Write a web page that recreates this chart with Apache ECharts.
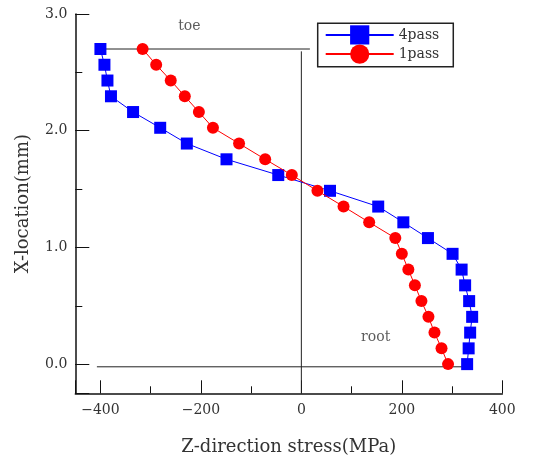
<!DOCTYPE html>
<html>
<head>
<meta charset="utf-8">
<script src="https://cdn.jsdelivr.net/npm/echarts@6/dist/echarts.min.js"></script>
<style>html,body{margin:0;padding:0;background:#fff}#c{width:541px;height:459px}</style>
</head>
<body>
<div id="c"></div>
<script>
// Data
var yLoc = [2.7, 2.565, 2.43, 2.295, 2.16, 2.025, 1.89, 1.755, 1.62, 1.485, 1.35, 1.215, 1.08, 0.945, 0.81, 0.675, 0.54, 0.405, 0.27, 0.135, 0.0];
var pass4 = [-400, -392, -386, -379, -335, -281, -228, -149, -46, 57, 153, 203, 252, 301, 319, 326, 334, 340, 336, 333, 330];
var pass1 = [-316, -289, -260, -232, -204, -176, -124, -72, -19, 32, 84, 135, 187, 200, 213, 226, 239, 253, 265, 279, 292];
var seriesNames = ['4pass', '1pass'];
var toeLine = [[-408, 2.7], [17, 2.7]];
var zeroLine = [[0, 2.68], [0, -0.25]];
var rootLine = [[-407, -0.023], [339, -0.023]];
var notes = [{ name: 'toe', value: [-223, 2.89] }, { name: 'root', value: [148, 0.23] }];
var xMin = -450, xMax = 400, yMin = -0.25, yMax = 3.0;

function pairs(xs, ys) { return xs.map(function (x, i) { return [x, ys[i]]; }); }

var FONT = 'DejaVu Serif';
var chart = echarts.init(document.getElementById('c'));
var refLine = function (d) {
  return { type: 'line', data: d, symbol: 'none', silent: true, z: 1,
    lineStyle: { color: '#222', width: 1 }, itemStyle: { color: '#222' } };
};
chart.setOption({
  animation: false,
  backgroundColor: '#fff',
  grid: { left: 75.3, right: 38.7, top: 14, bottom: 65.7, containLabel: false, outerBoundsMode: 'none' },
  legend: {
    data: seriesNames,
    orient: 'vertical',
    left: 317.7, top: 23.3,
    itemWidth: 68, itemHeight: 24, itemGap: 0,
    padding: [2, 14, 3, 7],
    borderColor: '#222', borderWidth: 1.5,
    textStyle: { fontFamily: FONT, fontSize: 14, color: '#333' }
  },
  xAxis: [
    { type: 'value', min: xMin, max: xMax, minInterval: 100, maxInterval: 100, position: 'bottom',
      axisLine: { show: true, onZero: false, lineStyle: { color: '#111', width: 1.5 } },
      axisTick: { show: true, inside: true, length: 7, lineStyle: { color: '#111' } },
      axisLabel: { show: false }, splitLine: { show: false },
      name: 'Z-direction stress(MPa)', nameLocation: 'middle', nameGap: 45,
      nameTextStyle: { fontFamily: FONT, fontSize: 18, color: '#333' } },
    { type: 'value', min: xMin, max: xMax, minInterval: 200, maxInterval: 200, position: 'bottom',
      axisLine: { show: false, onZero: false },
      axisTick: { show: true, inside: true, length: 13, lineStyle: { color: '#111' } },
      axisLabel: { show: true, margin: 10, fontFamily: FONT, fontSize: 14, color: '#333',
        formatter: function (v) { if (Math.abs(v % 200) > 1e-6) return ''; return String(v).replace('-', '\u2212'); } },
      splitLine: { show: false } }
  ],
  yAxis: [
    { type: 'value', min: yMin, max: yMax, minInterval: 0.5, maxInterval: 0.5, position: 'left',
      axisLine: { show: true, onZero: false, lineStyle: { color: '#111', width: 1.5 } },
      axisTick: { show: true, inside: true, length: 7, lineStyle: { color: '#111' } },
      axisLabel: { show: false }, splitLine: { show: false },
      name: 'X-location(mm)', nameLocation: 'middle', nameGap: 43,
      nameTextStyle: { fontFamily: FONT, fontSize: 18, color: '#333' } },
    { type: 'value', min: yMin, max: yMax, minInterval: 1, maxInterval: 1, position: 'left',
      axisLine: { show: false, onZero: false },
      axisTick: { show: true, inside: true, length: 14, lineStyle: { color: '#111' } },
      axisLabel: { show: true, margin: 8, fontFamily: FONT, fontSize: 14, color: '#333',
        formatter: function (v) { if (Math.abs(v - Math.round(v)) > 1e-6) return ''; return v.toFixed(1); } },
      splitLine: { show: false } }
  ],
  series: [
    refLine(toeLine), refLine(zeroLine), refLine(rootLine),
    { type: 'scatter', data: notes, symbolSize: 0, silent: true,
      label: { show: true, position: 'inside', formatter: '{b}', fontFamily: FONT, fontSize: 14, color: '#333' } },
    { name: seriesNames[0], type: 'line', data: pairs(pass4, yLoc), symbol: 'rect', symbolSize: 12,
      lineStyle: { color: '#0000ff', width: 1 }, itemStyle: { color: '#0000ff' }, z: 3 },
    { name: seriesNames[1], type: 'line', data: pairs(pass1, yLoc), symbol: 'circle', symbolSize: 12,
      lineStyle: { color: '#ff0000', width: 1 }, itemStyle: { color: '#ff0000' }, z: 4 }
  ]
});
</script>
</body>
</html>
